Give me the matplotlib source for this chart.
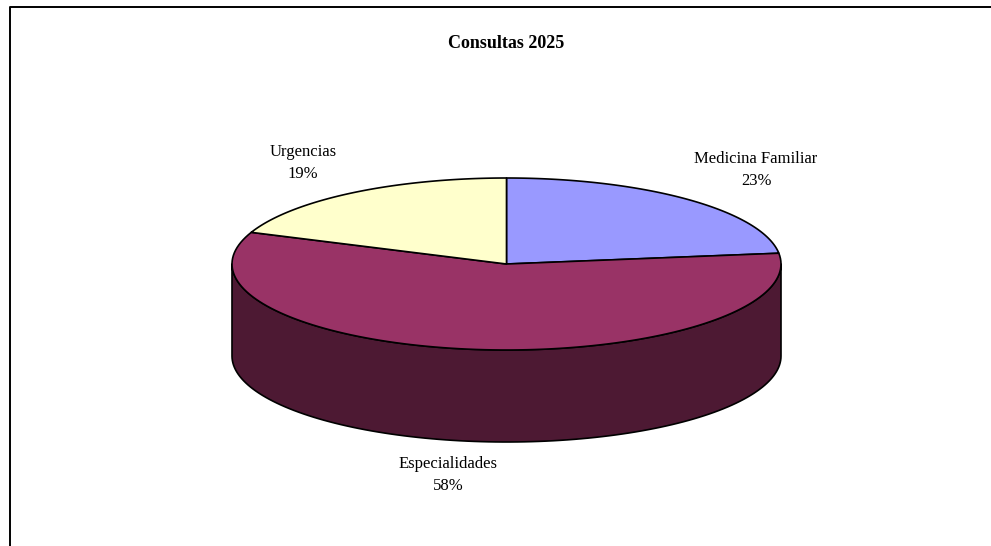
import numpy as np
import matplotlib.pyplot as plt
from matplotlib.patches import Polygon

# chart data
title = 'Consultas 2025'
labels = ['Medicina Familiar', 'Especialidades', 'Urgencias']
shares = [23, 58, 19]
top_colors = ['#9999FF', '#993366', '#FFFFCC']
side_colors = ['#4D4D80', '#4D1933', '#808066']

# label anchors (pixel layout)
label_pos = [(756, 170), (448, 475), (303, 163)]

plt.rcParams['font.family'] = ['Liberation Serif', 'DejaVu Serif']

W, H = 991, 546
fig = plt.figure(figsize=(W / 100, H / 100), dpi=100)
ax = fig.add_axes([0, 0, 1, 1])
ax.set_xlim(0, W)
ax.set_ylim(H, 0)
ax.axis('off')

# ellipse geometry of the tilted pie
cx, cy = 506.5, 264
a, b = 274.5, 86
depth = 92


def arc(t1, t2, dy=0, n=120):
    t = np.radians(np.linspace(t1, t2, n))
    return np.column_stack([cx + a * np.sin(t), cy - b * np.cos(t) + dy])


vals = np.array(shares, dtype=float)
ends = np.cumsum(vals) / vals.sum() * 360
starts = np.concatenate([[0], ends[:-1]])

# side walls, only the front half is visible
for s, e, col in zip(starts, ends, side_colors):
    lo, hi = max(s, 90), min(e, 270)
    if hi <= lo:
        continue
    pts = np.vstack([arc(lo, hi), arc(lo, hi, depth)[::-1]])
    ax.add_patch(Polygon(pts, closed=True, facecolor=col, edgecolor='black', lw=1.2, joinstyle='round'))

# top faces
for s, e, col in zip(starts, ends, top_colors):
    pts = np.vstack([[cx, cy], arc(s, e)])
    ax.add_patch(Polygon(pts, closed=True, facecolor=col, edgecolor='black', lw=1.2, joinstyle='round'))

for lab, v, (x, y) in zip(labels, shares, label_pos):
    ax.text(x, y, f'{lab}\n{v}%', ha='center', va='center', fontsize=12, linespacing=1.45)

ax.text(cx, 44, title, ha='center', va='center', fontsize=13, fontweight='bold')

# chart area frame
ax.plot([10, 10, W], [H, 7, 7], color='black', lw=1.4, solid_capstyle='butt')

fig.savefig('out.png', dpi=100)
